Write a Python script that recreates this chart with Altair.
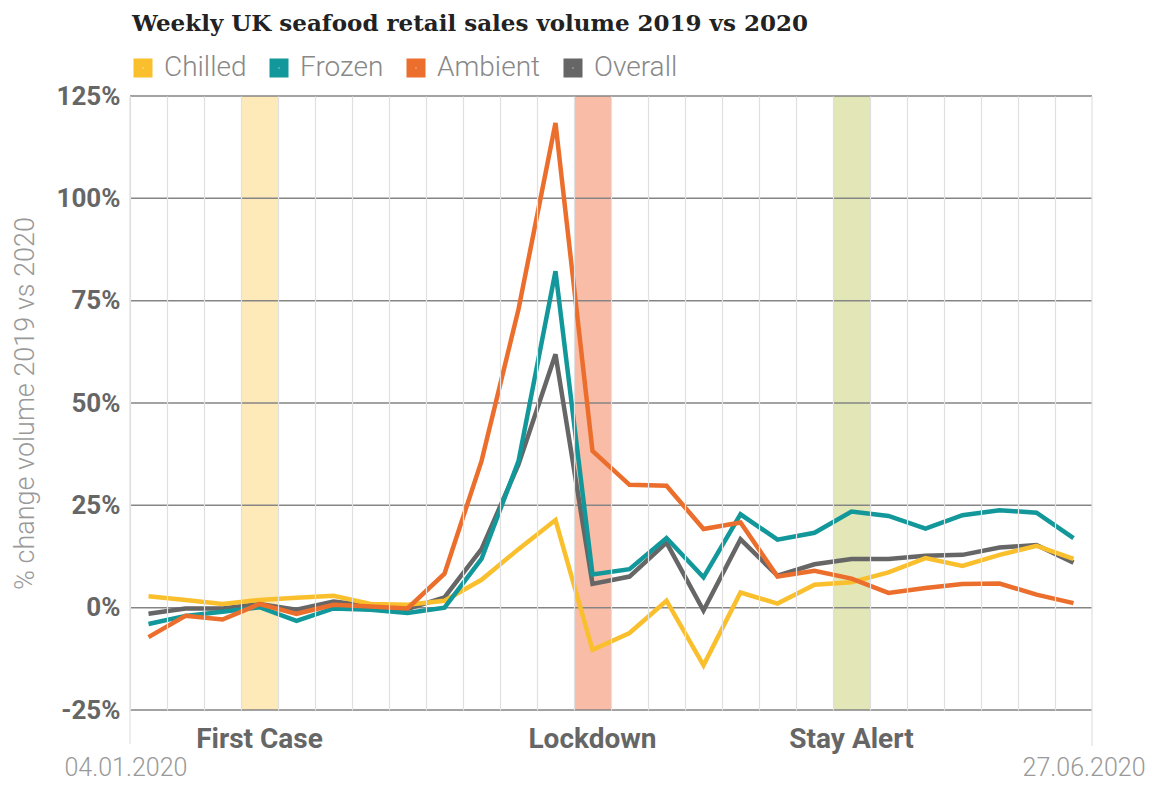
import altair as alt
import pandas as pd

weeks = ["04.01.2020", "11.01.2020", "18.01.2020", "25.01.2020", "01.02.2020",
         "08.02.2020", "15.02.2020", "22.02.2020", "29.02.2020", "07.03.2020",
         "14.03.2020", "21.03.2020", "28.03.2020", "04.04.2020", "11.04.2020",
         "18.04.2020", "25.04.2020", "02.05.2020", "09.05.2020", "16.05.2020",
         "23.05.2020", "30.05.2020", "06.06.2020", "13.06.2020", "20.06.2020",
         "27.06.2020"]

chilled = [2.8, 1.9, 0.9, 1.9, 2.4, 2.9, 0.9, 0.7, 1.7, 6.8, 14.3, 21.4, -10.3,
           -6.2, 1.7, -14.1, 3.7, 1.0, 5.6, 6.2, 8.6, 12.1, 10.2, 12.9, 15.1, 11.9]
frozen = [-4.0, -2.0, -1.0, 0.1, -3.2, -0.2, -0.5, -1.3, 0.0, 11.9, 35.8, 82.2, 8.1,
          9.4, 17.0, 7.4, 22.8, 16.6, 18.3, 23.5, 22.4, 19.3, 22.6, 23.8, 23.2, 17.0]
ambient = [-7.2, -2.0, -2.9, 0.9, -1.5, 0.7, 0.3, -0.2, 8.3, 35.8, 72.9, 118.4, 38.3,
           30.0, 29.8, 19.2, 20.8, 7.6, 9.0, 7.1, 3.6, 4.8, 5.8, 5.9, 3.2, 1.1]
overall = [-1.5, -0.2, -0.2, 0.9, -0.5, 1.5, 0.5, -0.3, 2.5, 14.3, 35.0, 61.9, 5.8,
           7.6, 15.9, -0.7, 16.7, 7.8, 10.6, 11.9, 11.9, 12.7, 12.9, 14.7, 15.3, 11.0]

series_names = ["Chilled", "Frozen", "Ambient", "Overall"]
series_colors = ["#F9BF2C", "#12979A", "#EC6E2C", "#666666"]

events = ["First Case", "Lockdown", "Stay Alert"]
event_weeks = ["25.01.2020", "28.03.2020", "16.05.2020"]
event_colors = ["#FDEAB8", "#F8BCA7", "#E3E6B7"]

y_ticks = [-25, 0, 25, 50, 75, 100, 125]

W, H = 962, 614

rows = []
for name, vals in [("Overall", overall), ("Chilled", chilled),
                   ("Frozen", frozen), ("Ambient", ambient)]:
    for w, v in zip(weeks, vals):
        rows.append({"week": w, "series": name, "value": v})
df = pd.DataFrame(rows)
df_events = pd.DataFrame({"week": event_weeks, "label": events})
df_ticks = pd.DataFrame({"v": y_ticks})

x_scale = alt.Scale(type="band", domain=weeks, paddingInner=0, paddingOuter=0)
y_scale = alt.Scale(domain=[-25, 125], nice=False, zero=False)

x_axis = alt.Axis(title=None, labels=False, ticks=False, domain=False, grid=True,
                  gridColor="#e0e0e0", gridWidth=1.2, bandPosition=0)
y_axis = alt.Axis(values=y_ticks, labelExpr="datum.value + '%'", grid=False,
                  ticks=False, domain=False, labelFont="Roboto",
                  labelFontWeight="bold", labelFontSize=26, labelColor="#666666",
                  labelPadding=10, title="% change volume 2019 vs 2020",
                  titleFont="Roboto", titleFontWeight=300, titleFontSize=27,
                  titleColor="#999999", titlePadding=17)

bands = alt.Chart(df_events).mark_rect().encode(
    x=alt.X("week:O", scale=x_scale, axis=x_axis),
    y=alt.value(0), y2=alt.value(H),
    fill=alt.Fill("label:N", scale=alt.Scale(domain=events, range=event_colors),
                  legend=None),
)

hgrid = alt.Chart(df_ticks).mark_rule(color="#858585", strokeWidth=1.5).encode(
    y=alt.Y("v:Q", scale=y_scale, axis=y_axis)
)

left_edge = alt.Chart(alt.Data(values=[{}])).mark_rule(color="#e0e0e0", strokeWidth=1.2).encode(
    x=alt.value(0), y=alt.value(0), y2=alt.value(H + 34))
right_edge = alt.Chart(alt.Data(values=[{}])).mark_rule(color="#e0e0e0", strokeWidth=1.2).encode(
    x=alt.value(W), y=alt.value(0), y2=alt.value(H + 36))

lines = alt.Chart(df).mark_line(strokeWidth=4.5).encode(
    x=alt.X("week:O", scale=x_scale),
    y=alt.Y("value:Q", scale=y_scale),
    color=alt.Color("series:N",
                    scale=alt.Scale(domain=series_names, range=series_colors),
                    legend=alt.Legend(orient="none", legendX=-1, legendY=-42,
                                      direction="horizontal", title=None,
                                      symbolType="square", symbolSize=100,
                                      symbolStrokeWidth=9, labelFont="Roboto",
                                      labelFontWeight=300, labelFontSize=28,
                                      labelColor="#888888", labelOffset=7,
                                      columnPadding=9)),
)

event_labels = alt.Chart(df_events).mark_text(
    font="Roboto", fontWeight="bold", fontSize=28, color="#666666", baseline="middle"
).encode(
    x=alt.X("week:O", scale=x_scale),
    y=alt.value(H + 30),
    text="label:N",
)

first_date = alt.Chart(pd.DataFrame({"week": [weeks[0]]})).mark_text(
    font="Roboto", fontWeight=300, fontSize=25, color="#999999",
    baseline="alphabetic", align="left", dx=-84
).encode(x=alt.X("week:O", scale=x_scale), y=alt.value(H + 66), text="week:N")

last_date = alt.Chart(pd.DataFrame({"week": [weeks[-1]]})).mark_text(
    font="Roboto", fontWeight=300, fontSize=25, color="#999999",
    baseline="alphabetic", align="right", dx=72
).encode(x=alt.X("week:O", scale=x_scale), y=alt.value(H + 66), text="week:N")

chart = alt.layer(
    bands, hgrid, left_edge, right_edge, lines, event_labels, first_date, last_date
).properties(
    width=W, height=H,
    title=alt.Title("Weekly UK seafood retail sales volume 2019 vs 2020",
                    anchor="start", frame="group", font="DejaVu Serif",
                    fontWeight="bold", fontSize=23, color="#222222", offset=18,
                    dx=2),
    autosize=alt.AutoSizeParams(type="none"),
    padding={"left": 122, "top": 88, "right": 55, "bottom": 71},
).configure_view(stroke=None)

chart.save("out.html", embed_options={"renderer": "svg", "actions": False})
